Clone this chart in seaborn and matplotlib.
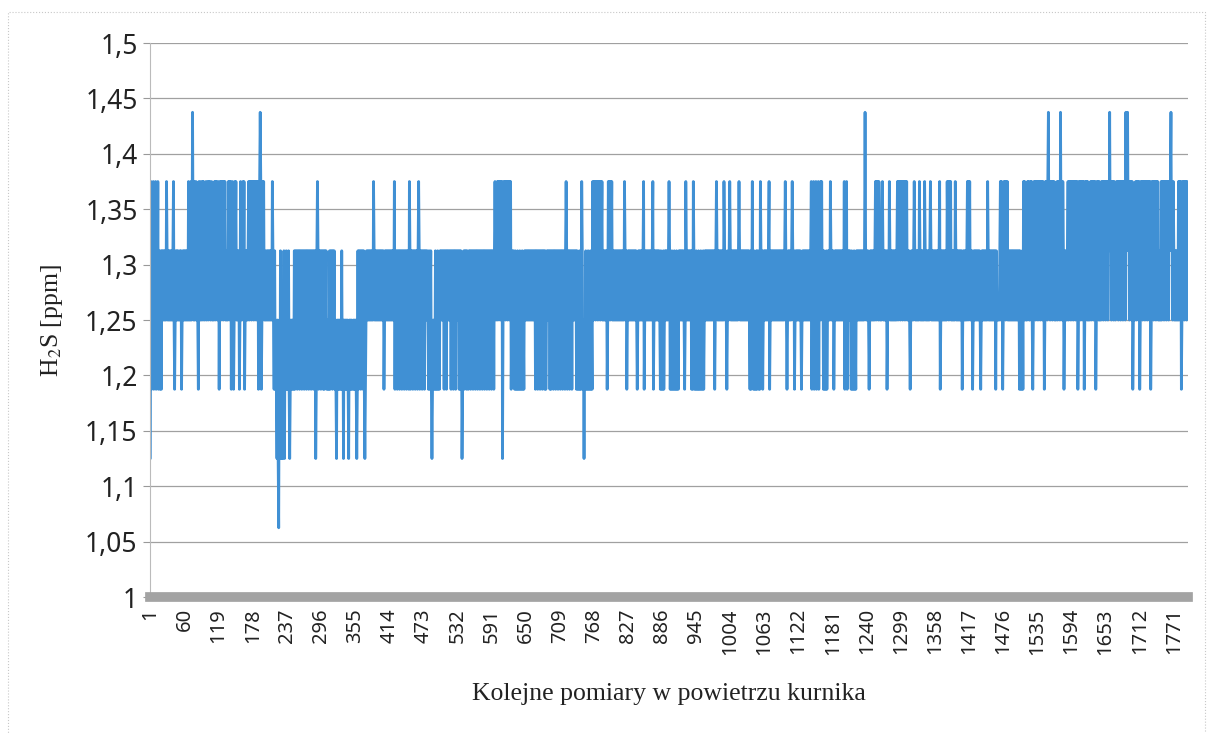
import numpy as np
import pandas as pd
import matplotlib
matplotlib.use("Agg")
import matplotlib.pyplot as plt
import matplotlib.patches as patches
import seaborn as sns

# H2S levels (sensor resolution 1/16 ppm); codes below index into this list
LEVELS = [1.0625, 1.125, 1.1875, 1.25, 1.3125, 1.375, 1.4375]

# readings, ~50 per row
H2S_CODES = [
    "1" "5243524352435243" "242434" "34343" "5" "43434343434" "5" "3" "2" "3434343",
    "3434" "2" "34343434343" "5343534" "6" "435345" "343" "2" "5435345354" "34" "5345",
    "35453453" "434" "53545345" "2" "453545354534" "343" "54535" "2" "453" "2" "35453",
    "3434" "2" "35434535" "2" "343434" "53545354535453545" "2" "35" "6" "5" "2" "3545" "343",
    "34343434343" "5" "432423" "2131" "0" "3142131241" "32423242" "1" "23232324",
    "243424342434243424342434243424342434" "1" "24" "5" "4243424342",
    "424342" "3232" "424342434" "232" "1" "32323232" "4" "23" "1" "32323232" "1" "323232",
    "2323232" "1" "2424342434242" "1" "23" "434343434343" "5" "4343434343434",
    "3434" "2" "34343434343434343" "5" "2434243424342434243424342" "5" "4",
    "24342434243424" "5" "4243424342434343242342" "1" "232324232423",
    "2434343424" "3424343434" "2434243424" "343424243" "1" "2342434243",
    "2434243424342434243424342434243424342434243424" "5" "434",
    "535453545" "1" "35453545354535" "2" "34343" "24232423242324232" "434",
    "3434343434343434" "2434243424342434242" "343434" "242434243",
    "4243424342434243424" "5" "42434243424" "343434" "242324232" "5" "423",
    "1" "32423242324232" "53545354535453545" "34343434" "2" "3" "54535453",
    "43434343434343434343" "5" "434" "2" "34343434343434343" "2" "3434343",
    "434" "5" "2" "34343434343434" "5" "2" "34343434343" "24232423" "4343434" "5" "42",
    "324232423242324" "343434343" "2" "3" "5" "434343434" "242" "5" "4232423242",
    "32423242" "343434343434343434" "2" "34" "5" "434343434343" "5" "4343" "2" "34",
    "34" "5" "434343434343434" "5" "434343434343434343" "2423" "5" "32423242",
    "43242" "5" "434" "2" "3434343434" "5" "2" "34343434343434343434343434" "5" "4",
    "3" "2" "34343434" "5" "434" "2" "34343434343" "2" "3434343434343434" "5243524",
    "35243524" "3545" "34" "24232423" "4343" "5" "43434" "2" "34343434343434343",
    "524352" "434343" "2423242324" "34343434343434" "6" "434343" "2" "343434",
    "3434" "53545354" "3434" "5" "4343434" "2" "343" "5" "4343434343434" "53545354",
    "5354535453" "4343" "2" "343434" "5" "43434343" "5" "43434343" "5" "434343434" "5",
    "434343434343434" "5" "2" "34343434343" "5453545" "3434343" "5" "4343434",
    "3434" "2" "34343434" "535453" "434" "2" "3434343434343" "2" "34343434343" "5" "4",
    "343434343434" "2" "4333334" "5354" "2" "354535453" "4343434343434343",
    "434" "242324253" "54" "333" "545" "33" "5453" "2" "3545354535453545354" "2" "354",
    "535" "6" "4535453545" "3434" "535453" "6" "45354" "2" "34" "3434" "5354535453545",
    "3545" "2" "3545354535" "2" "354535" "3434" "535453545" "2" "354535" "343" "54535",
    "453545354" "6" "45354535" "434" "5453545354535453" "6" "45" "6" "45354535" "2",
    "3434" "5354535" "2" "354535453545354535" "2" "3545354535453" "4343" "53",
    "545354535453545" "6" "4535" "43434343" "53545" "2" "35453545354",
]

Y_TICKS = [1.0, 1.05, 1.1, 1.15, 1.2, 1.25, 1.3, 1.35, 1.4, 1.45, 1.5]
Y_TICK_LABELS = ["1", "1,05", "1,1", "1,15", "1,2", "1,25", "1,3", "1,35", "1,4", "1,45", "1,5"]
X_TICK_LABELS = ["1", "60", "119", "178", "237", "296", "355", "414", "473", "532", "591",
                 "650", "709", "768", "827", "886", "945", "1004", "1063", "1122", "1181",
                 "1240", "1299", "1358", "1417", "1476", "1535", "1594", "1653", "1712", "1771"]

h2s = [LEVELS[int(c)] for c in "".join(H2S_CODES)]
df = pd.DataFrame({"pomiar": np.arange(1, len(h2s) + 1), "h2s": h2s})

sns.set_style("white")
plt.rcParams["mathtext.fontset"] = "stix"

fig = plt.figure(figsize=(12.14, 7.33), dpi=100)
ax = fig.add_axes([0.1236, 0.1855, 0.855, 0.7558])

sns.lineplot(data=df, x="pomiar", y="h2s", ax=ax, color="#4090D4", lw=2.0,
             estimator=None, legend=False)

ax.set_xlim(0.5, len(h2s) + 0.5)
ax.set_ylim(1.0, 1.5)
ax.set_yticks(Y_TICKS)
ax.set_yticklabels(Y_TICK_LABELS, fontsize=19, family="Noto Sans", color="#222222")
ax.set_xticks([int(t) for t in X_TICK_LABELS])
ax.set_xticklabels(X_TICK_LABELS, rotation=90, fontsize=14.5, family="Noto Sans",
                   color="#222222")
ax.tick_params(axis="x", length=0, pad=8)
ax.tick_params(axis="y", length=5, width=0.8, color="#999999", pad=4, left=True)

ax.yaxis.grid(True, color="#a0a0a0", lw=0.9)
ax.xaxis.grid(False)
for side in ["top", "right"]:
    ax.spines[side].set_visible(False)
ax.spines["left"].set_color("#bbbbbb")
ax.spines["left"].set_linewidth(0.8)
ax.spines["bottom"].set_color("#a3a3a3")
ax.spines["bottom"].set_linewidth(7)

ax.set_xlabel("Kolejne pomiary w powietrzu kurnika", fontsize=18.5, family="Liberation Serif",
              color="#222222")
ax.set_ylabel("H$_2$S [ppm]", fontsize=18.5, family="Liberation Serif", color="#222222")
ax.xaxis.set_label_coords(0.5, -0.155)
ax.yaxis.set_label_coords(-0.082, 0.5)

# thin frame of the chart area
fig.patches.append(patches.Rectangle((8 / 1214, -0.01), 1197 / 1214, 1 - 12 / 733 + 0.01,
                                     transform=fig.transFigure, fill=False,
                                     ec="#c8c8c8", lw=0.8, ls=":"))

fig.savefig("out.png", dpi=100)
